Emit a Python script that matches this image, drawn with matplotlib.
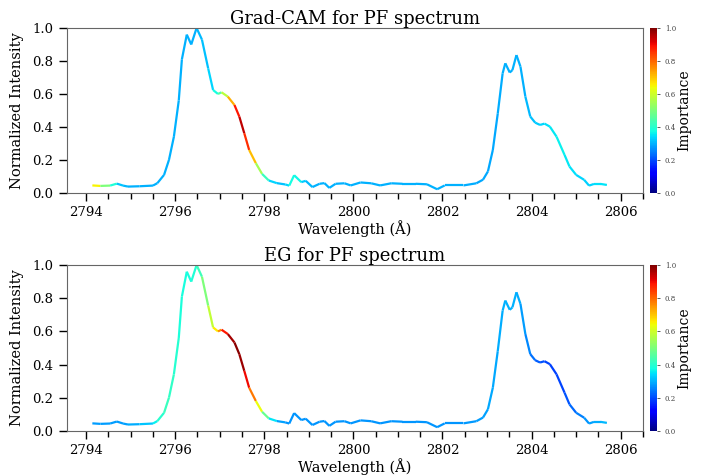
import numpy as np
import matplotlib
matplotlib.use("Agg")
import matplotlib.pyplot as plt
from matplotlib.collections import LineCollection

plt.rcParams['font.family'] = ['DejaVu Serif']

wavelength = [2794.14, 2794.32, 2794.54, 2794.69, 2794.83, 2794.94, 2795.20, 2795.50, 2795.60, 2795.75,
              2795.86, 2795.97, 2796.08, 2796.15, 2796.26, 2796.36, 2796.48, 2796.60, 2796.74, 2796.85,
              2796.96, 2797.04, 2797.18, 2797.33, 2797.44, 2797.55, 2797.66, 2797.81, 2797.95, 2798.10,
              2798.28, 2798.47, 2798.56, 2798.67, 2798.83, 2798.93, 2799.08, 2799.24, 2799.35, 2799.46,
              2799.60, 2799.80, 2799.94, 2800.16, 2800.40, 2800.60, 2800.85, 2801.10, 2801.40, 2801.65,
              2801.88, 2802.05, 2802.47, 2802.76, 2802.91, 2803.02, 2803.13, 2803.24, 2803.35, 2803.41,
              2803.51, 2803.57, 2803.66, 2803.75, 2803.86, 2803.97, 2804.08, 2804.19, 2804.29, 2804.41,
              2804.56, 2804.74, 2804.85, 2805.00, 2805.18, 2805.29, 2805.40, 2805.55, 2805.69]

intensity = [0.045, 0.042, 0.044, 0.056, 0.044, 0.038, 0.040, 0.044, 0.059, 0.109,
             0.20, 0.34, 0.56, 0.81, 0.96, 0.90, 1.00, 0.93, 0.755, 0.624,
             0.60, 0.61, 0.584, 0.533, 0.462, 0.362, 0.26, 0.18, 0.115, 0.075,
             0.059, 0.051, 0.044, 0.107, 0.065, 0.073, 0.035, 0.055, 0.059, 0.030,
             0.055, 0.058, 0.045, 0.063, 0.058, 0.045, 0.058, 0.055, 0.055, 0.052,
             0.022, 0.045, 0.045, 0.058, 0.080, 0.13, 0.26, 0.48, 0.725, 0.786,
             0.73, 0.745, 0.836, 0.766, 0.584, 0.463, 0.426, 0.412, 0.42, 0.402,
             0.341, 0.23, 0.16, 0.109, 0.079, 0.044, 0.054, 0.054, 0.048]

gradcam_importance = [0.75, 0.55, 0.45, 0.33, 0.31, 0.30, 0.30, 0.30, 0.30, 0.30,
                      0.30, 0.30, 0.30, 0.30, 0.30, 0.30, 0.30, 0.31, 0.32, 0.35,
                      0.40, 0.50, 0.65, 0.80, 0.97, 0.92, 0.80, 0.62, 0.48, 0.36,
                      0.31, 0.32, 0.35, 0.40, 0.34, 0.31, 0.30, 0.30, 0.30, 0.30,
                      0.30, 0.30, 0.30, 0.30, 0.30, 0.30, 0.30, 0.30, 0.30, 0.30,
                      0.30, 0.30, 0.30, 0.29, 0.29, 0.29, 0.29, 0.29, 0.30, 0.30,
                      0.30, 0.30, 0.30, 0.30, 0.30, 0.31, 0.32, 0.33, 0.34, 0.35,
                      0.36, 0.36, 0.35, 0.34, 0.33, 0.33, 0.34, 0.35, 0.35]

eg_importance = [0.28, 0.28, 0.28, 0.28, 0.28, 0.29, 0.30, 0.34, 0.38, 0.42,
                 0.42, 0.40, 0.39, 0.38, 0.38, 0.38, 0.40, 0.45, 0.55, 0.62,
                 0.70, 0.82, 0.95, 0.98, 1.00, 0.95, 0.85, 0.72, 0.55, 0.40,
                 0.30, 0.27, 0.27, 0.27, 0.27, 0.27, 0.27, 0.27, 0.27, 0.27,
                 0.27, 0.27, 0.27, 0.27, 0.27, 0.27, 0.27, 0.27, 0.27, 0.27,
                 0.27, 0.27, 0.27, 0.28, 0.28, 0.29, 0.29, 0.29, 0.30, 0.30,
                 0.30, 0.30, 0.30, 0.29, 0.27, 0.25, 0.22, 0.21, 0.20, 0.19,
                 0.19, 0.20, 0.22, 0.24, 0.26, 0.28, 0.29, 0.30, 0.31]

titles = ["Grad-CAM for PF spectrum", "EG for PF spectrum"]
importances = [gradcam_importance, eg_importance]

fig = plt.figure(figsize=(7.05, 4.75), dpi=100)
axes_rects = [[0.0945, 0.594, 0.8175, 0.347], [0.0945, 0.093, 0.8175, 0.349]]
cbar_rects = [[0.922, 0.594, 0.01, 0.347], [0.922, 0.093, 0.01, 0.349]]

x = np.array(wavelength)
y = np.array(intensity)
pts = np.column_stack([x, y]).reshape(-1, 1, 2)
segs = np.concatenate([pts[:-1], pts[1:]], axis=1)
norm = plt.Normalize(0, 1)
span = x.max() - x.min()

for rect, crect, title, imp in zip(axes_rects, cbar_rects, titles, importances):
    ax = fig.add_axes(rect)
    imp = np.array(imp)
    lc = LineCollection(segs, cmap='jet', norm=norm, linewidth=1.6)
    lc.set_array(0.5 * (imp[:-1] + imp[1:]))
    ax.add_collection(lc)
    ax.set_xlim(x.min() - 0.05 * span, x.max() + 0.05 * span)
    ax.set_ylim(0, 1.0)
    ax.set_yticks(np.arange(0, 1.01, 0.2))
    ax.set_xticks(np.arange(2794, 2807, 2))
    ax.set_xticks(np.arange(2794, 2806.6, 0.5), minor=True)
    ax.tick_params(axis='both', which='major', length=6, width=1, labelsize=9.5, direction='out')
    ax.tick_params(axis='x', which='minor', length=4, width=1)
    for s in ax.spines.values():
        s.set_color('#666666')
    ax.set_title(title, fontsize=13, pad=3)
    ax.set_xlabel("Wavelength (Å)", fontsize=10.5, labelpad=1)
    ax.set_ylabel("Normalized Intensity", fontsize=10.5, labelpad=6)

    cax = fig.add_axes(crect)
    cb = fig.colorbar(lc, cax=cax)
    cb.set_ticks(np.arange(0, 1.01, 0.2))
    cb.ax.tick_params(labelsize=5, length=2, width=0.6, colors='#444444')
    cb.outline.set_visible(False)
    cb.set_label("Importance", fontsize=10, labelpad=1)

fig.savefig("out.png", dpi=100)
